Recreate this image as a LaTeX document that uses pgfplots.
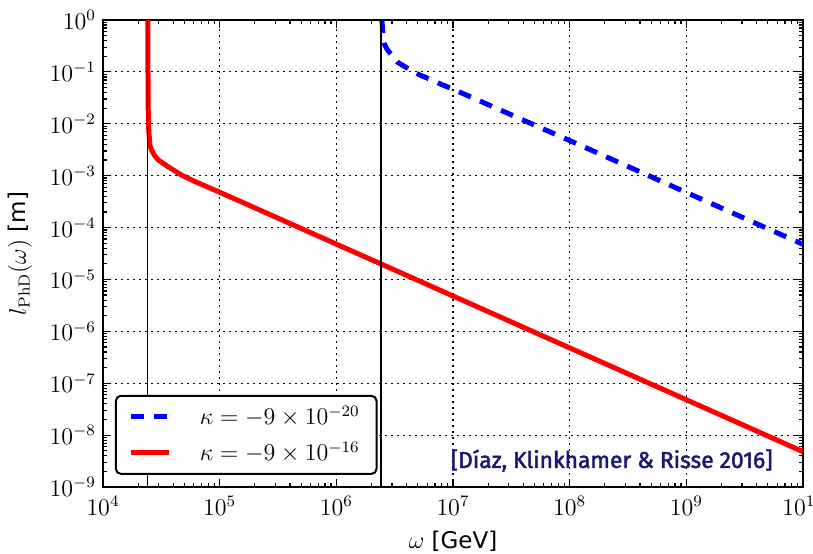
\documentclass[border=0pt]{standalone}
\usepackage[no-math]{fontspec}
\setmainfont{DejaVu Sans}
\newfontfamily\annfont{Fira Sans}[FakeBold=2]
\usepackage{pgfplots}
\pgfplotsset{compat=1.18}
\definecolor{annblue}{RGB}{25,25,112}
\begin{document}
\begin{tikzpicture}
\useasboundingbox (-51.5pt,-33pt) rectangle (355pt,243.5pt);
\begin{axis}[
  at={(0pt,0pt)}, anchor=south west,
  scale only axis, width=350pt, height=233.5pt,
  xmode=log, ymode=log,
  xmin=1e4, xmax=1e10, ymin=1e-9, ymax=1,
  xtick={1e4,1e5,1e6,1e7,1e8,1e9,1e10},
  ytick={1e-9,1e-8,1e-7,1e-6,1e-5,1e-4,1e-3,1e-2,1e-1,1},
  minor xtick={2e4,3e4,4e4,5e4,6e4,7e4,8e4,9e4,2e5,3e5,4e5,5e5,6e5,7e5,8e5,9e5,2e6,3e6,4e6,5e6,6e6,7e6,8e6,9e6,2e7,3e7,4e7,5e7,6e7,7e7,8e7,9e7,2e8,3e8,4e8,5e8,6e8,7e8,8e8,9e8,2e9,3e9,4e9,5e9,6e9,7e9,8e9,9e9},
  minor ytick={2e-9,3e-9,4e-9,5e-9,6e-9,7e-9,8e-9,9e-9,2e-8,3e-8,4e-8,5e-8,6e-8,7e-8,8e-8,9e-8,2e-7,3e-7,4e-7,5e-7,6e-7,7e-7,8e-7,9e-7,2e-6,3e-6,4e-6,5e-6,6e-6,7e-6,8e-6,9e-6,2e-5,3e-5,4e-5,5e-5,6e-5,7e-5,8e-5,9e-5,2e-4,3e-4,4e-4,5e-4,6e-4,7e-4,8e-4,9e-4,2e-3,3e-3,4e-3,5e-3,6e-3,7e-3,8e-3,9e-3,2e-2,3e-2,4e-2,5e-2,6e-2,7e-2,8e-2,9e-2,2e-1,3e-1,4e-1,5e-1,6e-1,7e-1,8e-1,9e-1},
  grid=major,
  major grid style={black, line width=0.6pt, dash pattern=on 1pt off 2pt},
  axis line style={line width=1pt},
  tick align=inside, tick pos=both,
  major tick length=4pt, minor tick length=2pt,
  every tick/.style={black, line width=0.6pt},
  tick label style={font=\fontsize{11.5}{13}\selectfont},
  xticklabel style={anchor=base, yshift=-14pt},
  every axis y label/.style={at={(axis description cs:-0.1186,0.5)}, rotate=90, anchor=center},
  every axis x label/.style={at={(axis description cs:0.5,-0.1306)}, anchor=base},
  label style={font=\fontsize{11.5}{13}\selectfont},
  xlabel={$\omega$ [GeV]},
  ylabel={$l_{\mathrm{PhD}}(\omega)$ [m]},
  legend style={at={(axis description cs:0.017,0.026)}, anchor=south west,
    draw=black, line width=1pt, rounded corners=2.5pt, fill=white,
    font=\fontsize{11.5}{13}\selectfont, inner xsep=6.5pt, inner ysep=3pt,
    row sep=3pt, cells={anchor=west},
    /tikz/every odd column/.append style={column sep=12pt}},
  legend image code/.code={\draw[#1] (0pt,0pt) -- (19pt,0pt);},
]
\addplot[color=blue, line width=2.5pt, dash pattern=on 6.5pt off 5pt] coordinates {
(2.455e6,1) (2.47e6,0.85) (2.495e6,0.64) (2.53e6,0.45) (2.56e6,0.36) (2.7e6,0.28)
(2.88e6,0.23) (3.33e6,0.155) (4.22e6,0.112) (5.14e6,0.088) (6.56e6,0.07) (8e6,0.057)
(1e7,0.0465) (1e8,4.75e-3) (1e9,4.75e-4) (1e10,4.75e-5)};
\addlegendentry{$\kappa=-9\times10^{-20}$}
\addplot[color=red, line width=2.5pt, line join=round] coordinates {
(2.425e4,1) (2.43e4,0.1) (2.44e4,0.02) (2.47e4,7e-3) (2.53e4,3.8e-3) (2.61e4,3.1e-3)
(2.75e4,2.5e-3) (2.98e4,2.0e-3) (3.63e4,1.48e-3) (4.73e4,1.02e-3) (6e4,7.9e-4)
(7.74e4,6.15e-4) (1e5,4.8e-4) (1e6,4.8e-5) (1e10,4.8e-9)};
\addlegendentry{$\kappa=-9\times10^{-16}$}
\addplot[black, line width=0.75pt, forget plot] coordinates {(2.415e4,1e-9) (2.415e4,1)};
\addplot[black, line width=0.75pt, forget plot] coordinates {(2.415e6,1e-9) (2.415e6,1)};
\node[anchor=base east, font=\annfont\fontsize{11.4}{13}\selectfont, text=annblue, inner sep=0pt]
  at (axis description cs:0.957,0.041) {[Díaz, Klinkhamer \& Risse 2016]};
\end{axis}
\end{tikzpicture}
\end{document}
